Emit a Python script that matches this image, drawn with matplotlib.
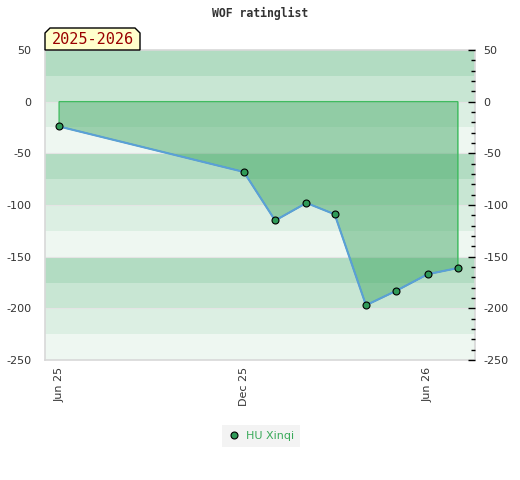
import matplotlib
matplotlib.use("Agg")
import matplotlib.pyplot as plt
import matplotlib.dates as mdates
from matplotlib.lines import Line2D
from matplotlib.patches import Polygon
import numpy as np
import datetime as dt

plt.rcParams["axes.unicode_minus"] = False

# rating change per month
dates = [dt.date(2025, 6, 1), dt.date(2025, 12, 1), dt.date(2026, 1, 1),
         dt.date(2026, 2, 1), dt.date(2026, 3, 1), dt.date(2026, 4, 1),
         dt.date(2026, 5, 1), dt.date(2026, 6, 1), dt.date(2026, 7, 1)]
values = [-24, -68, -115, -98, -109, -197, -183, -167, -161]
player = "HU Xinqi"
season = "2025-2026"
xticks = [dt.date(2025, 6, 1), dt.date(2025, 12, 1), dt.date(2026, 6, 1)]

band_colors = ["#b2dcc2", "#c8e6d3", "#dcefe3", "#eef7f1"]

W, H = 520, 480
fig = plt.figure(figsize=(5.2, 4.8), dpi=100)
ax = fig.add_axes([45/W, 120/H, 430/W, 310/H])
ax.set_xlim(mdates.date2num(dt.date(2025, 5, 18)), mdates.date2num(dt.date(2026, 7, 18)))
ax.set_ylim(-250, 50)

# background bands, 25 units each
for i, top in enumerate(range(50, -250, -25)):
    ax.axhspan(top - 25, top, color=band_colors[i % 4], lw=0, zorder=0)
for y in range(-200, 50, 50):
    ax.axhline(y, color="#e4e4e4", lw=0.8, zorder=0.5)

x = mdates.date2num(dates)
ax.fill_between(x, values, 0, color="#39a45d", alpha=0.46, lw=0, zorder=1)
edge = np.column_stack([np.r_[x[0], x, x[-1]], np.r_[0, values, 0]])
ax.add_patch(Polygon(edge, closed=True, fill=False, ec="#40bb60", lw=1, zorder=2))
ax.plot(x, values, color="#5b9fd8", lw=1.5, zorder=3)
ax.plot(x, values, "o", ms=5, mfc="#2f9a58", mec="black", mew=0.8, zorder=4)

ax.set_xticks(mdates.date2num(xticks))
ax.xaxis.set_major_formatter(mdates.DateFormatter("%b %y"))
ax.tick_params(axis="x", length=0, labelrotation=90, labelsize=8, colors="#333333", pad=5)
ax.set_yticks(range(-250, 51, 50))
ax.tick_params(axis="y", length=0, labelsize=8, colors="#333333", pad=10)
for s in ax.spines.values():
    s.set_color("#d8d8d8")
    s.set_linewidth(1.2)

ax2 = ax.twinx()
ax2.set_ylim(-250, 50)
ax2.set_yticks(range(-250, 51, 50))
ax2.set_yticks(range(-240, 50, 10), minor=True)
ax2.tick_params(axis="y", which="major", direction="in", length=5, width=1,
                labelsize=8, colors="#333333", pad=6)
ax2.tick_params(axis="y", which="minor", direction="in", length=3, width=1, color="black")
ax2.tick_params(axis="y", which="major", color="black")
for s in ax2.spines.values():
    s.set_visible(False)

fig.text(0.5, 1 - 13/H, "WOF ratinglist", ha="center", va="center",
         family="DejaVu Sans Mono", weight="bold", fontsize=8.3, color="#333333")

# season label with cut top corners
px = [45, 45, 50, 135, 140, 140]
py = [50, 33, 28, 28, 33, 50]
tag = Polygon(np.column_stack([np.array(px) / W, 1 - np.array(py) / H]), closed=True,
              transform=fig.transFigure, fc="#ffffcc", ec="black", lw=1, zorder=5)
fig.patches.append(tag)
fig.text(92.5/W, 1 - 40/H, season, ha="center", va="center", zorder=6,
         family="DejaVu Sans Mono", fontsize=11, color="#990000")

h = Line2D([], [], ls="none", marker="o", ms=5, mfc="#2f9a58", mec="black", mew=0.8)
leg = fig.legend([h], [player], loc="center", bbox_to_anchor=(261/W, 1 - 436/H),
                 frameon=True, fancybox=False, fontsize=8, handletextpad=0.6,
                 borderpad=0.5, handlelength=1)
leg.get_frame().set_facecolor("#f0f0f0")
leg.get_frame().set_edgecolor("none")
for t in leg.get_texts():
    t.set_color("#3aaa5a")

fig.savefig("out.png", dpi=100)
